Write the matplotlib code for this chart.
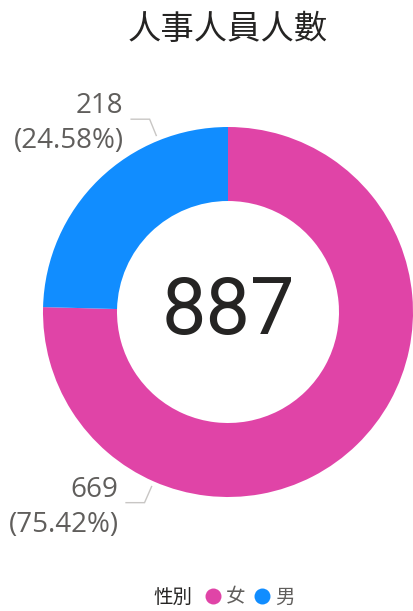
import matplotlib.pyplot as plt
from matplotlib import font_manager as fm
from matplotlib.lines import Line2D
import numpy as np

# 資料
genders = ["女", "男"]
counts = [669, 218]
colors = ["#E044A7", "#118DFF"]

title = "人事人員人數"
legend_title = "性別"

plt.rcParams["font.family"] = ["Noto Sans CJK TC", "DejaVu Sans"]

W, H = 414, 611
CX, CY, R = 228, 312, 185  # 甜甜圈中心與半徑 (px)

fig = plt.figure(figsize=(W / 100, H / 100), dpi=100)
ax = fig.add_axes([0, 0, 1, 1])

wedges, _ = ax.pie(counts, colors=colors, startangle=90, counterclock=False,
                   radius=1, wedgeprops=dict(width=0.4, linewidth=0),
                   frame=True)
ax.set_xlim(-CX / R, (W - CX) / R)
ax.set_ylim(-(H - CY) / R, CY / R)
ax.set_aspect("auto")
ax.axis("off")

total = sum(counts)
ax.text(0, 0, f"{total}", ha="center", va="center", fontsize=57,
        family="Roboto", color="#252423")

# 資料標籤
for w, n in zip(wedges, counts):
    ang = np.deg2rad(w.theta1 + 0.25 * (w.theta2 - w.theta1))
    x0, y0 = 1.03 * np.cos(ang), 1.03 * np.sin(ang)
    x1, y1 = 1.125 * np.cos(ang), 1.125 * np.sin(ang)
    x2 = x1 - 0.1
    ax.plot([x0, x1, x2], [y0, y1, y1], color="#C8C6C4", lw=1,
            solid_joinstyle="miter")
    pct = n / total * 100
    ax.text(x2 - 0.04, y1 - 0.025, f"{n}\n({pct:.2f}%)", ha="right",
            va="center", multialignment="right", fontsize=20,
            family="Open Sans", color="#605E5C", linespacing=1.35)

# 標題: 有細體就用細體
cjk = [f for f in fm.fontManager.ttflist if "CJK TC" in f.name]
light = [f for f in cjk if str(f.weight) in ("300", "350", "light", "demilight")]
title_font = fm.FontProperties(fname=light[0].fname) if light else None
fig.text(CX / W, 1 - 29 / H, title, ha="center", va="center", fontsize=24,
         color="#252423", fontproperties=title_font,
         **({} if light else {"family": "Noto Sans CJK TC"}))

# 圖例
leg_y = 1 - 597 / H
fig.text(153 / W, leg_y, legend_title, ha="left", va="center",
         fontsize=14, color="#252423")
handles = [Line2D([], [], marker="o", ls="none", markersize=11.5,
                  markerfacecolor=c, markeredgewidth=0) for c in colors]
fig.legend(handles, genders, loc="center left",
           bbox_to_anchor=(205 / W, leg_y), ncol=2, frameon=False,
           fontsize=14, handlelength=0.8, handletextpad=0.25,
           columnspacing=0.5, borderpad=0, borderaxespad=0,
           labelcolor="#605E5C")

fig.savefig("out.png", dpi=100)
